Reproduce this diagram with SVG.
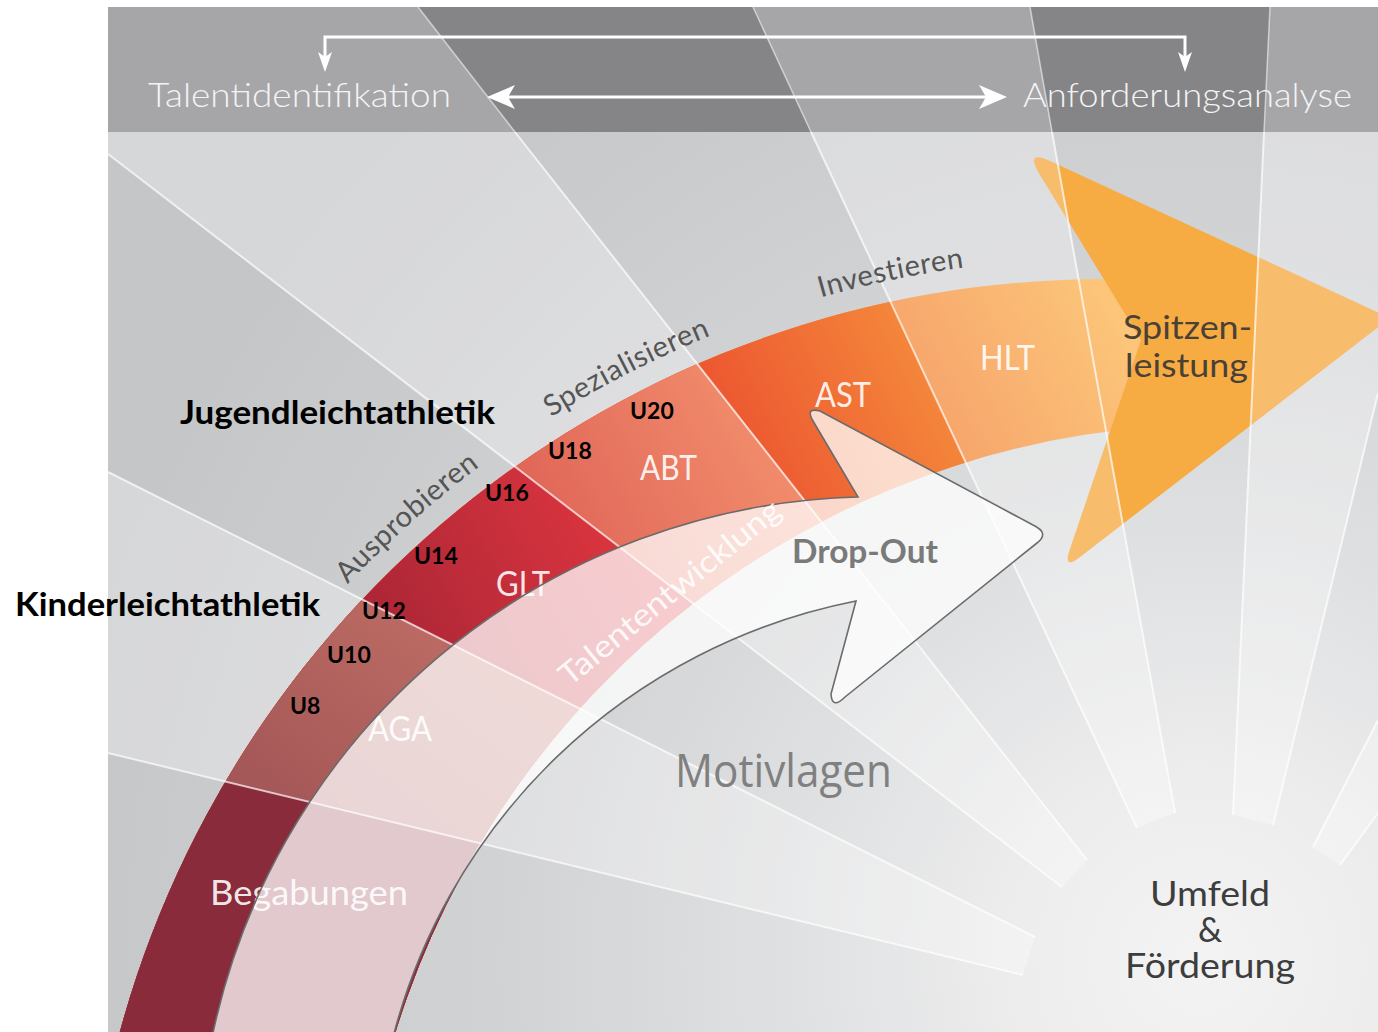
<svg xmlns="http://www.w3.org/2000/svg" width="1378" height="1032" viewBox="0 0 1378 1032">
<defs>
<style>
.lt{font-family:Lato,"Open Sans","DejaVu Sans",sans-serif}
.bd{font-family:Lato,"Open Sans","DejaVu Sans",sans-serif;font-weight:700;fill:#000}
.u{font-size:23px}
.ray{stroke:#fff;stroke-opacity:.7;stroke-width:2;fill:none}
.wedge{fill:#fff;fill-opacity:.3}
.seg{font-size:34px;fill:#fff;fill-opacity:.9}
.arc{font-size:29px;fill:#555;letter-spacing:.6px}
.top{font-size:34px;fill:#f4f4f4;font-weight:300}
.conn{stroke:#fff;stroke-width:3;fill:none}
.dk{fill:#3d3d3d;font-size:34px}
</style>
<radialGradient id="bgG" gradientUnits="userSpaceOnUse" cx="1200" cy="960" r="1150">
<stop offset="0" stop-color="#f3f3f3"/>
<stop offset="0.14" stop-color="#eeeeef"/>
<stop offset="0.35" stop-color="#e0e1e2"/>
<stop offset="0.6" stop-color="#d2d3d5"/>
<stop offset="1" stop-color="#c5c6c8"/>
</radialGradient>
<linearGradient id="gAGA" gradientUnits="userSpaceOnUse" x1="230" y1="800" x2="380" y2="600"><stop offset="0" stop-color="#a25557"/><stop offset="1" stop-color="#ba6a62"/></linearGradient>
<linearGradient id="gGLT" gradientUnits="userSpaceOnUse" x1="370" y1="620" x2="590" y2="500"><stop offset="0" stop-color="#ab2636"/><stop offset="1" stop-color="#d9343e"/></linearGradient>
<linearGradient id="gABT" gradientUnits="userSpaceOnUse" x1="540" y1="520" x2="760" y2="400"><stop offset="0" stop-color="#e06658"/><stop offset="1" stop-color="#f28d6c"/></linearGradient>
<linearGradient id="gAST" gradientUnits="userSpaceOnUse" x1="720" y1="440" x2="940" y2="330"><stop offset="0" stop-color="#ec5430"/><stop offset="1" stop-color="#f58d3c"/></linearGradient>
<linearGradient id="gHLT" gradientUnits="userSpaceOnUse" x1="900" y1="400" x2="1100" y2="290"><stop offset="0" stop-color="#f6a26a"/><stop offset="1" stop-color="#fcc579"/></linearGradient>
<clipPath id="bandClip"><path d="M112.6,1060 A1021,1021 0 0 1 1150,280 L1150,427 A863,863 0 0 0 387.4,1060 Z"/></clipPath>
<clipPath id="headClip"><path d="M1141,340 L1040,175 Q1024.5,149 1050,161 L1390,318 L1080,557 Q1062.6,570.5 1070,549 Z"/></clipPath>
<path id="arcLbl" d="M98.5,1030.3 A1042,1042 0 0 1 1285.9,273.8"/>
<marker id="hdS" viewBox="0 0 20 14" refX="12" refY="7" markerWidth="20" markerHeight="14" markerUnits="userSpaceOnUse" orient="auto-start-reverse"><path d="M0,0 L20,7 L0,14 L5,7 Z" fill="#fff"/></marker>
<marker id="hdL" viewBox="0 0 28 24" refX="14" refY="12" markerWidth="28" markerHeight="24" markerUnits="userSpaceOnUse" orient="auto-start-reverse"><path d="M0,0 L28,12 L0,24 L7,12 Z" fill="#fff"/></marker>
</defs>

<rect width="1378" height="1032" fill="#fff"/>

<g id="background">
<rect x="108" y="132" width="1270" height="900" fill="url(#bgG)"/>
<polygon class="wedge" points="108,132 515,132 1087,860 1062,887 108,154"/>
<polygon class="wedge" points="108,472 1035,937 1023,975 108,753"/>
<polygon class="wedge" points="811,132 1052,132 1175,813 1137,828"/>
<polygon class="wedge" points="1264,132 1378,132 1378,393 1273,825 1233,815"/>
<polygon class="wedge" points="1378,720 1313,847 1340,865 1378,813"/>
</g>

<g id="top-band">
<rect x="108" y="7" width="1270" height="125" fill="#a6a6a8"/>
<polygon points="418,7 753,7 811,132 515,132" fill="#858587"/>
<polygon points="1030,7 1270,7 1264,132 1052,132" fill="#858587"/>
<g stroke="#fff" stroke-opacity=".55" stroke-width="1.5">
<line x1="418" y1="7" x2="515" y2="132"/>
<line x1="753" y1="7" x2="811" y2="132"/>
<line x1="1030" y1="7" x2="1052" y2="132"/>
<line x1="1270" y1="7" x2="1264" y2="132"/>
</g>
<text class="lt top" x="148" y="107" textLength="303" lengthAdjust="spacingAndGlyphs">Talentidentifikation</text>
<text class="lt top" x="1023" y="107" textLength="329" lengthAdjust="spacingAndGlyphs">Anforderungsanalyse</text>
</g>

<g id="connectors">
<path class="conn" d="M325,64 L325,37 L1185,37 L1185,64" marker-start="url(#hdS)" marker-end="url(#hdS)"/>
<line class="conn" x1="501" y1="97" x2="993" y2="97" marker-start="url(#hdL)" marker-end="url(#hdL)"/>
</g>

<g id="band" clip-path="url(#bandClip)">
<rect x="0" y="0" width="1400" height="1100" fill="url(#gHLT)"/>
<polygon points="703,-100 1264,1100 0,1100 0,-100" fill="url(#gAST)"/>
<polygon points="334,-100 1275,1100 0,1100 0,-100" fill="url(#gABT)"/>
<polygon points="0,71 1400,1146.7 1400,1200 0,1200" fill="url(#gGLT)"/>
<polygon points="0,417.8 1400,1120 1400,1200 0,1200" fill="url(#gAGA)"/>
<polygon points="0,726.8 1400,1066.4 1400,1200 0,1200" fill="#8a2b3b"/>
</g>

<g id="spitzenleistung-head">
<path d="M1141,340 L1040,175 Q1024.5,149 1050,161 L1390,318 L1080,557 Q1062.6,570.5 1070,549 Z" fill="#f7ab43"/>
<g clip-path="url(#headClip)" fill="#fff" fill-opacity=".22">
<polygon points="811,132 1052,132 1175,813 1137,828"/>
<polygon points="1264,132 1378,132 1378,393 1273,825 1233,815"/>
</g>
</g>

<g id="band-labels" class="lt">
<text class="seg" x="210" y="905" textLength="198" lengthAdjust="spacingAndGlyphs" fill-opacity=".85">Begabungen</text>
<text class="seg" x="368" y="741" textLength="64" lengthAdjust="spacingAndGlyphs" fill-opacity=".8">AGA</text>
<text class="seg" x="496" y="596" textLength="54" lengthAdjust="spacingAndGlyphs" fill-opacity=".8">GLT</text>
<text class="seg" x="640" y="480" textLength="57" lengthAdjust="spacingAndGlyphs">ABT</text>
<text class="seg" x="815" y="407" textLength="56" lengthAdjust="spacingAndGlyphs">AST</text>
<text class="seg" x="980" y="370" textLength="55" lengthAdjust="spacingAndGlyphs" fill-opacity=".8">HLT</text>
</g>

<g id="rays">
<line class="ray" x1="108" y1="753" x2="1023" y2="975"/>
<line class="ray" x1="108" y1="472" x2="1035" y2="937"/>
<line class="ray" x1="108" y1="154" x2="1062" y2="887"/>
<line class="ray" x1="515" y1="132" x2="1087" y2="860"/>
<line class="ray" x1="811" y1="132" x2="1137" y2="828"/>
<line class="ray" x1="1052" y1="132" x2="1175" y2="813"/>
<line class="ray" x1="1264" y1="132" x2="1233" y2="815"/>
<line class="ray" x1="1378" y1="393" x2="1273" y2="825"/>
<line class="ray" x1="1378" y1="720" x2="1313" y2="847"/>
<line class="ray" x1="1378" y1="813" x2="1340" y2="865"/>
</g>

<g id="dropout-arrow">
<path d="M209.6,1050 A678,678 0 0 1 858,497 L813,421 Q805,407 820,411 L1033,525 Q1050,533 1037,543 L845,697 Q832,710 831,694 L856,601 A597,597 0 0 0 389.9,1050 Z" fill="#fff" fill-opacity=".75" stroke="#6b6b6b" stroke-width="1.6"/>
<text class="lt" transform="translate(670,593) rotate(-39)" x="0" y="10" text-anchor="middle" font-size="31" fill="#fff" fill-opacity=".9" textLength="275" lengthAdjust="spacingAndGlyphs">Talententwicklung</text>
<text class="bd" x="792" y="563" font-size="32" style="fill:#7a7a7a" textLength="146" lengthAdjust="spacingAndGlyphs">Drop-Out</text>
</g>

<g id="phase-labels" class="lt">
<text class="arc"><textPath href="#arcLbl" startOffset="516">Ausprobieren</textPath></text>
<text class="arc"><textPath href="#arcLbl" startOffset="780">Spezialisieren</textPath></text>
<text class="arc"><textPath href="#arcLbl" startOffset="1076">Investieren</textPath></text>
</g>

<g id="spitzenleistung-label" class="lt">
<text x="1123" y="339" font-size="33" fill="#4a4136" textLength="129" lengthAdjust="spacingAndGlyphs">Spitzen-</text>
<text x="1125" y="377" font-size="33" fill="#4a4136" textLength="123" lengthAdjust="spacingAndGlyphs">leistung</text>
</g>

<g id="motivlagen">
<text x="675" y="787" font-family="'Open Sans','Noto Sans',sans-serif" font-size="45" fill="#808080" textLength="217" lengthAdjust="spacingAndGlyphs">Motivlagen</text>
</g>

<g id="umfeld" class="lt">
<text class="dk" x="1210" y="906" text-anchor="middle" textLength="120" lengthAdjust="spacingAndGlyphs">Umfeld</text>
<text class="dk" x="1210" y="942" text-anchor="middle" font-size="32">&amp;</text>
<text class="dk" x="1210" y="978" text-anchor="middle" textLength="170" lengthAdjust="spacingAndGlyphs">Förderung</text>
</g>

<g id="age-groups">
<text class="bd" x="180" y="424" font-size="32" textLength="315" lengthAdjust="spacingAndGlyphs">Jugendleichtathletik</text>
<text class="bd" x="15" y="616" font-size="32" textLength="305" lengthAdjust="spacingAndGlyphs">Kinderleichtathletik</text>
<text class="bd u" x="290" y="714">U8</text>
<text class="bd u" x="327" y="663">U10</text>
<text class="bd u" x="362" y="619">U12</text>
<text class="bd u" x="414" y="564">U14</text>
<text class="bd u" x="485" y="501">U16</text>
<text class="bd u" x="548" y="459">U18</text>
<text class="bd u" x="630" y="419">U20</text>
</g>
</svg>
